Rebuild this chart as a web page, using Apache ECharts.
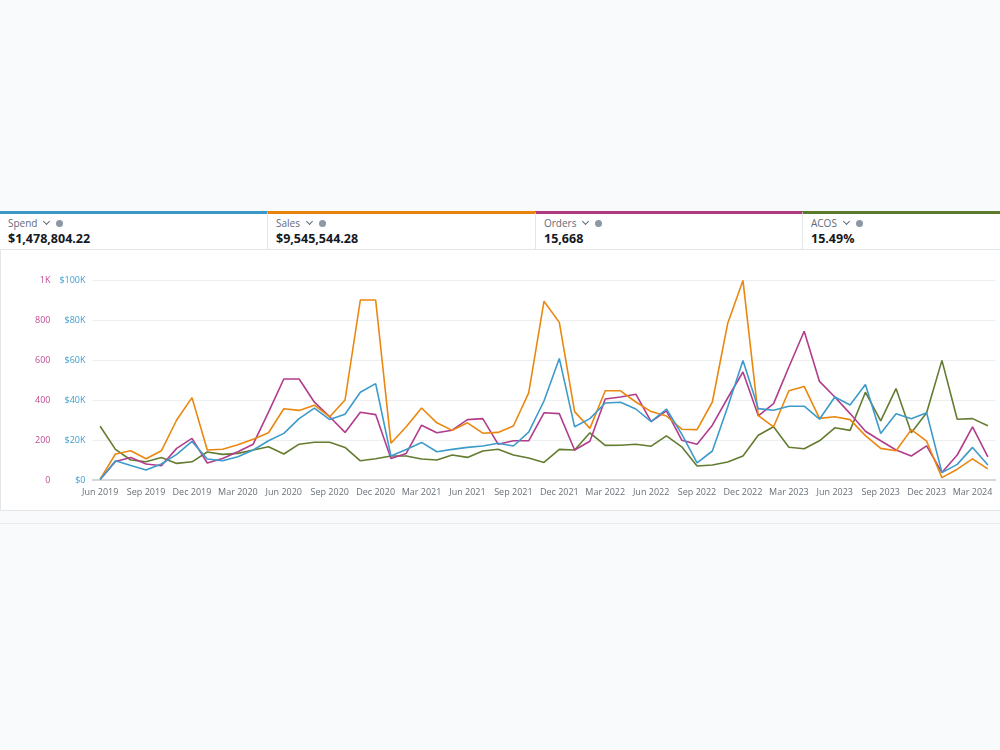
<!DOCTYPE html>
<html>
<head>
<meta charset="utf-8">
<script src="https://cdn.jsdelivr.net/npm/echarts@6/dist/echarts.min.js"></script>
<style>
  html, body { margin: 0; padding: 0; width: 1000px; height: 750px; overflow: hidden; background: #f9fafc; font-family: 'Open Sans', 'Noto Sans', sans-serif; }
  .cards { position: absolute; left: 0; top: 211px; width: 1000px; height: 38px; background: #fff; border-bottom: 1px solid #e4e7ea; }
  .card { position: absolute; top: 0; height: 38px; border-top: 3px solid; box-sizing: border-box; padding-left: 8px; }
  .card + .card { border-left: 1px solid #e4e7ea; }
  .label { font-size: 10px; color: #5f6b7a; line-height: 12px; margin-top: 3px; display: flex; align-items: center; }
  .chev { display: inline-block; width: 4px; height: 4px; border-right: 1.3px solid #5f6b7a; border-bottom: 1.3px solid #5f6b7a; transform: rotate(45deg); margin: -3px 0 0 7px; }
  .info { display: inline-block; width: 7px; height: 7px; border-radius: 50%; background: #8d98a6; margin-left: 7px; }
  .value { font-size: 12.5px; font-weight: 700; color: #16191f; line-height: 15px; margin-top: 2px; }
  .panel { position: absolute; left: 0; top: 250px; width: 1000px; height: 261px; background: #fff; border-left: 1px solid #e4e7ea; border-bottom: 1px solid #e4e7ea; box-sizing: border-box; }
  .rule { position: absolute; left: 0; top: 523px; width: 1000px; height: 1px; background: #e9ecef; }
  #chart { position: absolute; left: 0; top: 250px; width: 1000px; height: 262px; }
</style>
</head>
<body>
<div class="cards">
  <div class="card" style="left:0;width:267px;border-top-color:#3a97c8"><div class="label">Spend<span class="chev"></span><span class="info"></span></div><div class="value">$1,478,804.22</div></div>
  <div class="card" style="left:267px;width:268px;border-top-color:#e8820f"><div class="label">Sales<span class="chev"></span><span class="info"></span></div><div class="value">$9,545,544.28</div></div>
  <div class="card" style="left:535px;width:267px;border-top-color:#b03a82"><div class="label">Orders<span class="chev"></span><span class="info"></span></div><div class="value">15,668</div></div>
  <div class="card" style="left:802px;width:198px;border-top-color:#5c7a2b"><div class="label">ACOS<span class="chev"></span><span class="info"></span></div><div class="value">15.49%</div></div>
</div>
<div class="panel"></div>
<div class="rule"></div>
<div id="chart"></div>
<script>
'use strict';
// 月份（Jun 2019 - Apr 2024）
const months = [
  'Jun 2019', 'Jul 2019', 'Aug 2019', 'Sep 2019', 'Oct 2019', 'Nov 2019', 'Dec 2019',
  'Jan 2020', 'Feb 2020', 'Mar 2020', 'Apr 2020', 'May 2020', 'Jun 2020', 'Jul 2020', 'Aug 2020', 'Sep 2020', 'Oct 2020', 'Nov 2020', 'Dec 2020',
  'Jan 2021', 'Feb 2021', 'Mar 2021', 'Apr 2021', 'May 2021', 'Jun 2021', 'Jul 2021', 'Aug 2021', 'Sep 2021', 'Oct 2021', 'Nov 2021', 'Dec 2021',
  'Jan 2022', 'Feb 2022', 'Mar 2022', 'Apr 2022', 'May 2022', 'Jun 2022', 'Jul 2022', 'Aug 2022', 'Sep 2022', 'Oct 2022', 'Nov 2022', 'Dec 2022',
  'Jan 2023', 'Feb 2023', 'Mar 2023', 'Apr 2023', 'May 2023', 'Jun 2023', 'Jul 2023', 'Aug 2023', 'Sep 2023', 'Oct 2023', 'Nov 2023', 'Dec 2023',
  'Jan 2024', 'Feb 2024', 'Mar 2024', 'Apr 2024'
];
// Spend, $K
const spend = [
  0.3, 9.6, 7.3, 5.0, 8.0, 12.8, 19.3, 10.5, 9.6, 11.6, 15.0, 19.6, 23.3, 30.7, 35.9, 30.2, 32.9, 43.9, 48.2,
  12.0, 15.3, 18.8, 14.1, 15.3, 16.3, 17.0, 18.4, 17.0, 23.9, 39.5, 60.8, 26.6, 30.7, 38.5, 38.9, 35.5, 29.2, 35.5, 22.9,
  8.6, 14.5, 36.5, 59.8, 35.7, 34.9, 36.9, 36.9, 30.4, 41.5, 37.5, 47.7, 23.3, 33.1, 30.6, 33.6, 3.7, 7.8, 16.3, 7.5
];
// Sales, $K
const sales = [
  2, 65, 73, 53, 73, 150, 206, 75, 77, 88, 102, 118, 178, 174, 187, 158, 200, 450, 450,
  92, 133, 180, 143, 124, 143, 117, 119, 135, 218, 447, 394, 171, 129, 223, 223, 195, 171, 160, 127,
  126, 195, 391, 499, 161, 133, 223, 234, 154, 158, 151, 111, 79, 73, 126, 97, 6, 27, 53, 28
];
const orders = [
  3, 93, 113, 80, 71, 158, 208, 85, 108, 141, 179, 339, 505, 505, 389, 316, 238, 339, 327,
  108, 133, 274, 236, 249, 302, 307, 179, 196, 196, 336, 332, 150, 194, 405, 415, 429, 292, 346, 199,
  179, 274, 410, 540, 321, 382, 565, 744, 493, 415, 332, 244, 196, 150, 120, 171, 37, 125, 266, 116
];
// ACOS, %
const acos = [
  26.9, 15.3, 10.0, 9.1, 11.3, 8.3, 9.1, 14.0, 12.8, 13.3, 15.0, 16.6, 13.0, 17.9, 18.9, 18.9, 16.3, 9.6, 10.6,
  12.0, 12.0, 10.5, 10.0, 12.5, 11.3, 14.5, 15.4, 12.5, 11.0, 8.8, 15.3, 15.0, 23.6, 17.3, 17.4, 17.9, 16.9, 22.1, 16.6,
  7.0, 7.5, 9.0, 12.0, 22.4, 26.6, 16.4, 15.6, 19.6, 26.1, 24.8, 43.9, 29.6, 45.7, 23.6, 33.6, 59.8, 30.4, 30.7, 27.1
];

const COLOR = { spend: '#3d9bcb', sales: '#ea870f', orders: '#b23c8c', acos: '#647c30', spendLabel: '#3f9fd0', ordersLabel: '#c04d95', label: '#687078', grid: '#eceef0', axis: '#d5d9dc' };

const chart = echarts.init(document.getElementById('chart'));
const line = (name, data, idx, color) => ({ name, type: 'line', data, yAxisIndex: idx, symbol: 'none', lineStyle: { color, width: 1.6 }, itemStyle: { color }, animation: false });

chart.setOption({
  backgroundColor: 'transparent',
  textStyle: { fontFamily: 'Open Sans' },
  grid: { left: 92.5, right: 4.5, top: 30, bottom: 32 },
  xAxis: {
    type: 'category', data: months, boundaryGap: true,
    axisTick: { show: false },
    axisLine: { lineStyle: { color: COLOR.axis, width: 2 } },
    axisLabel: { color: COLOR.label, fontSize: 9, interval: 2, margin: 8 }
  },
  yAxis: [
    { type: 'value', min: 0, max: 100, interval: 20, position: 'left',
      axisLabel: { color: COLOR.spendLabel, fontSize: 9, margin: 7, formatter: (v) => '$' + v + (v ? 'K' : '') },
      splitLine: { lineStyle: { color: COLOR.grid } }, axisLine: { show: false }, axisTick: { show: false } },
    { type: 'value', min: 0, max: 1000, interval: 200, position: 'left', offset: 35,
      axisLabel: { color: COLOR.ordersLabel, fontSize: 9, margin: 7, formatter: (v) => (v === 1000 ? '1K' : String(v)) },
      splitLine: { show: false }, axisLine: { show: false }, axisTick: { show: false } },
    { type: 'value', min: 0, max: 500, show: false },
    { type: 'value', min: 0, max: 100, show: false }
  ],
  series: [
    line('ACOS', acos, 3, COLOR.acos),
    line('Orders', orders, 1, COLOR.orders),
    line('Sales', sales, 2, COLOR.sales),
    line('Spend', spend, 0, COLOR.spend)
  ]
});
</script>
</body>
</html>
